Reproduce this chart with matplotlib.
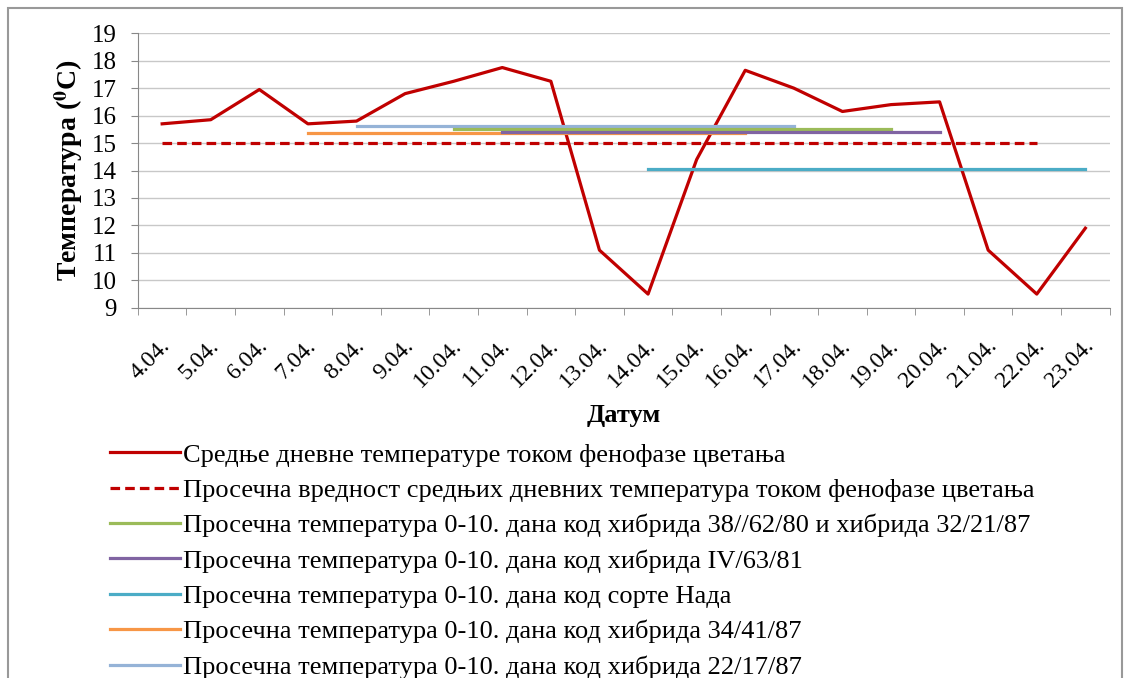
import numpy as np
import matplotlib.pyplot as plt
from matplotlib.patches import Rectangle
from matplotlib.transforms import ScaledTranslation

plt.rcParams['font.family'] = ['Liberation Serif', 'DejaVu Serif']
plt.rcParams['mathtext.fontset'] = 'stix'

dates = ['4.04.', '5.04.', '6.04.', '7.04.', '8.04.', '9.04.', '10.04.', '11.04.',
         '12.04.', '13.04.', '14.04.', '15.04.', '16.04.', '17.04.', '18.04.',
         '19.04.', '20.04.', '21.04.', '22.04.', '23.04.']
daily_temp = [15.7, 15.85, 16.95, 15.7, 15.8, 16.8, 17.25, 17.75, 17.25, 11.1,
              9.5, 14.4, 17.65, 17.0, 16.15, 16.4, 16.5, 11.1, 9.5, 11.9]

mean_value = 15.0
mean_start, mean_end = '4.04.', '22.04.'

# horizontal averages: label, first day, last day, value, colour
avg_labels = [
    'Просечна температура 0-10. дана код хибрида 38//62/80 и хибрида 32/21/87',
    'Просечна температура 0-10. дана код хибрида IV/63/81',
    'Просечна температура 0-10. дана код сорте Нада',
    'Просечна температура 0-10. дана код хибрида 34/41/87',
    'Просечна температура 0-10. дана код хибрида 22/17/87',
]
avg_start = ['10.04.', '11.04.', '14.04.', '7.04.', '8.04.']
avg_end = ['19.04.', '20.04.', '23.04.', '16.04.', '17.04.']
avg_values = [15.5, 15.4, 14.05, 15.35, 15.62]
avg_colors = ['#9BBB59', '#8064A2', '#4BACC6', '#F79646', '#95B3D7']

red = '#C00000'

fig = plt.figure(figsize=(11.3, 6.78), dpi=100)
ax = fig.add_axes([0.122, 0.546, 0.86, 0.405])

x = np.arange(len(dates))
handles = []
h, = ax.plot(x, daily_temp, color=red, lw=2.3,
             label='Средње дневне температуре током фенофазе цветања')
handles.append(h)

i0, i1 = dates.index(mean_start), dates.index(mean_end)
h, = ax.plot(x[i0:i1 + 1], [mean_value] * (i1 - i0 + 1), color=red, lw=2.3,
             ls=(0, (3, 1.6)),
             label='Просечна вредност средњих дневних температура током фенофазе цветања')
handles.append(h)

order = [3, 4, 0, 1, 2]  # drawing order (which line is on top)
avg_handles = {}
for k in order:
    i0, i1 = dates.index(avg_start[k]), dates.index(avg_end[k])
    h, = ax.plot(x[i0:i1 + 1], [avg_values[k]] * (i1 - i0 + 1),
                 color=avg_colors[k], lw=2.3, label=avg_labels[k])
    avg_handles[k] = h
handles += [avg_handles[k] for k in range(len(avg_labels))]

ax.set_xlim(-0.5, len(dates) - 0.5)
ax.set_ylim(9, 19)
ax.set_yticks(range(9, 20))
ax.set_xticks(x)
ax.set_xticklabels(dates, rotation=45, ha='right', va='center',
                   rotation_mode='anchor', fontsize=17)
ax.set_xticks(np.arange(-0.5, len(dates)), minor=True)
ax.tick_params(axis='x', which='major', length=0, pad=25)
ax.tick_params(axis='x', which='minor', length=5, color='#888888')
ax.tick_params(axis='y', labelsize=18, length=5, color='#888888', pad=10)
ax.grid(axis='y', color='#C8C8C8', lw=1)
ax.set_axisbelow(True)
for s in ['top', 'right']:
    ax.spines[s].set_visible(False)
for s in ['left', 'bottom']:
    ax.spines[s].set_color('#888888')

ax.set_ylabel('Температура ($^{\\mathbf{0}}$C)', fontsize=20, fontweight='bold', labelpad=5)
ax.set_xlabel('Датум', fontsize=19, fontweight='bold', labelpad=9)

fig.legend(handles=handles, loc='upper left', bbox_to_anchor=(0.088, 0.362),
           frameon=False, fontsize=19, handlelength=2.65, handletextpad=0.12,
           labelspacing=0.45, borderaxespad=0)

fig.patches.append(Rectangle((0.007, -0.1), 0.986, 1.088, transform=fig.transFigure,
                             fill=False, edgecolor='#999999', lw=1.5))

# nudge the date labels a few pixels to the right
shift = ScaledTranslation(5 / 100, 0, fig.dpi_scale_trans)
for lbl in ax.get_xticklabels():
    lbl.set_transform(lbl.get_transform() + shift)

fig.savefig('out.png', dpi=100)
